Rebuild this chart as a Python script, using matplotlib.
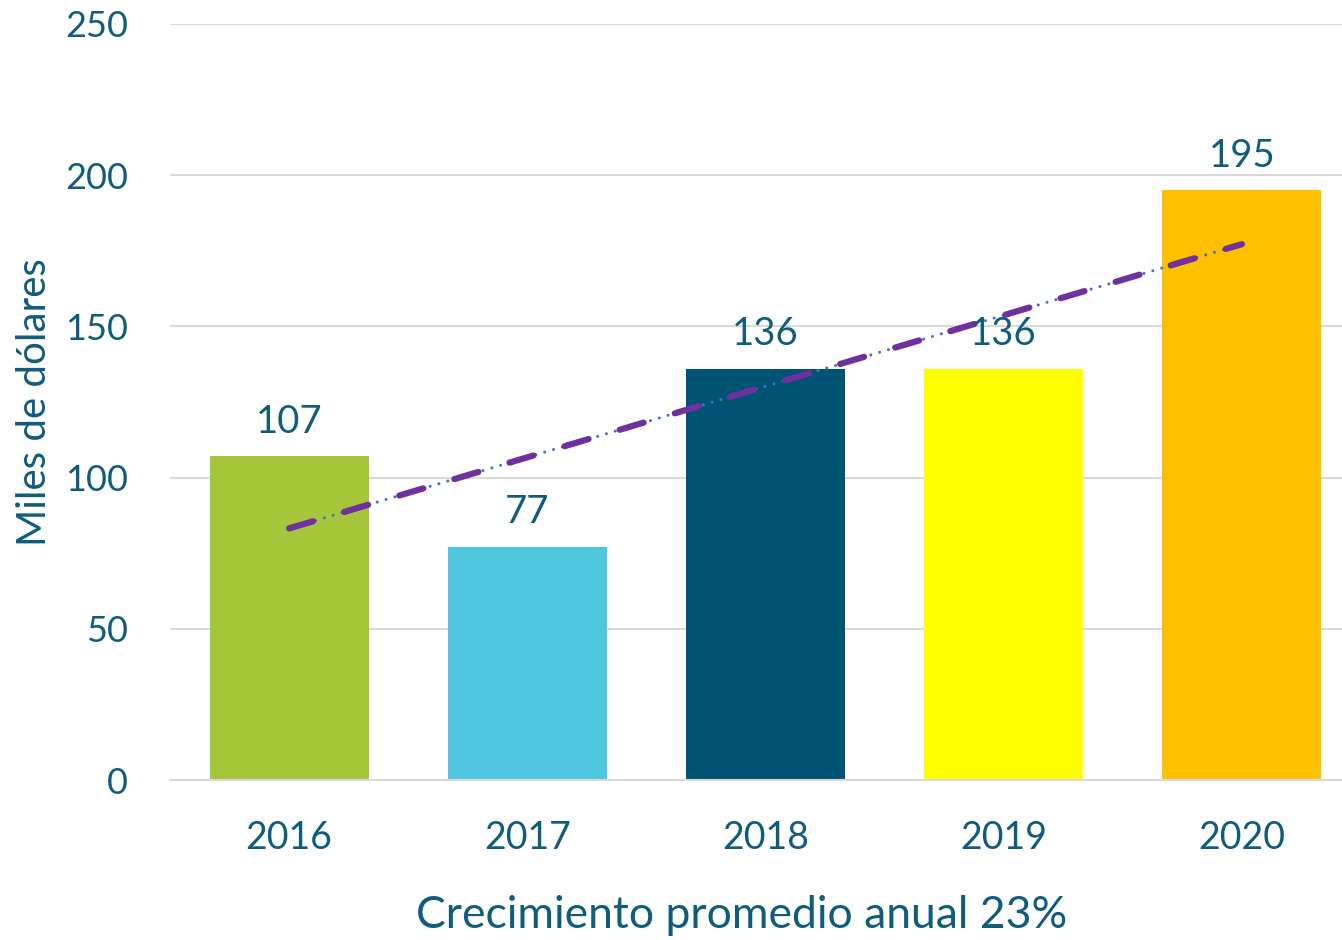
import numpy as np
import matplotlib.pyplot as plt

years = ["2016", "2017", "2018", "2019", "2020"]
values = [107, 77, 136, 136, 195]
bar_colors = ["#A5C63B", "#4FC6E0", "#005473", "#FFFF00", "#FFC000"]
y_ticks = [0, 50, 100, 150, 200, 250]

text_color = "#0F5C7C"
plt.rcParams["font.family"] = ["Lato", "DejaVu Sans"]

fig = plt.figure(figsize=(13.42, 9.4), dpi=100)
ax = fig.add_axes([170 / 1342, 160 / 940, 1191 / 1342, 756 / 940])

x = np.arange(len(years))
ax.bar(x, values, width=0.667, color=bar_colors, zorder=2)

for xi, v in zip(x, values):
    ax.annotate(str(v), (xi, v), xytext=(0, 12), textcoords="offset points",
                ha="center", va="bottom", fontsize=27.5, color=text_color, zorder=4)

# linear trendline
slope, intercept = np.polyfit(x, values, 1)
trend = slope * x + intercept
ax.plot(x, trend, color="#4472C4", lw=2.2, linestyle=(0, (0.01, 3)),
        dash_capstyle="round", zorder=3)
ax.plot(x, trend, color="#7030A0", lw=4.5, linestyle=(0, (4, 5.2)),
        dash_capstyle="round", zorder=3)

ax.set_xlim(-0.5, 4.5)
ax.set_ylim(0, 250)
ax.set_yticks(y_ticks)
ax.set_xticks(x)
ax.set_xticklabels(years)
ax.grid(axis="y", color="#D9D9D9", lw=1.5, zorder=0)
ax.set_axisbelow(True)
for side in ["top", "right", "left"]:
    ax.spines[side].set_visible(False)
ax.spines["bottom"].set_color("#D9D9D9")
ax.spines["bottom"].set_linewidth(1.5)
ax.tick_params(axis="y", length=0, labelsize=26, labelcolor=text_color, pad=30)
ax.tick_params(axis="x", length=0, labelsize=27, labelcolor=text_color, pad=29)

ax.set_ylabel("Miles de dólares", fontsize=29, color=text_color, labelpad=9)
fig.text(742 / 1342, 1 - 915 / 940, "Crecimiento promedio anual 23%",
         fontsize=32, color=text_color, ha="center", va="center")

fig.savefig("out.png", dpi=100)
